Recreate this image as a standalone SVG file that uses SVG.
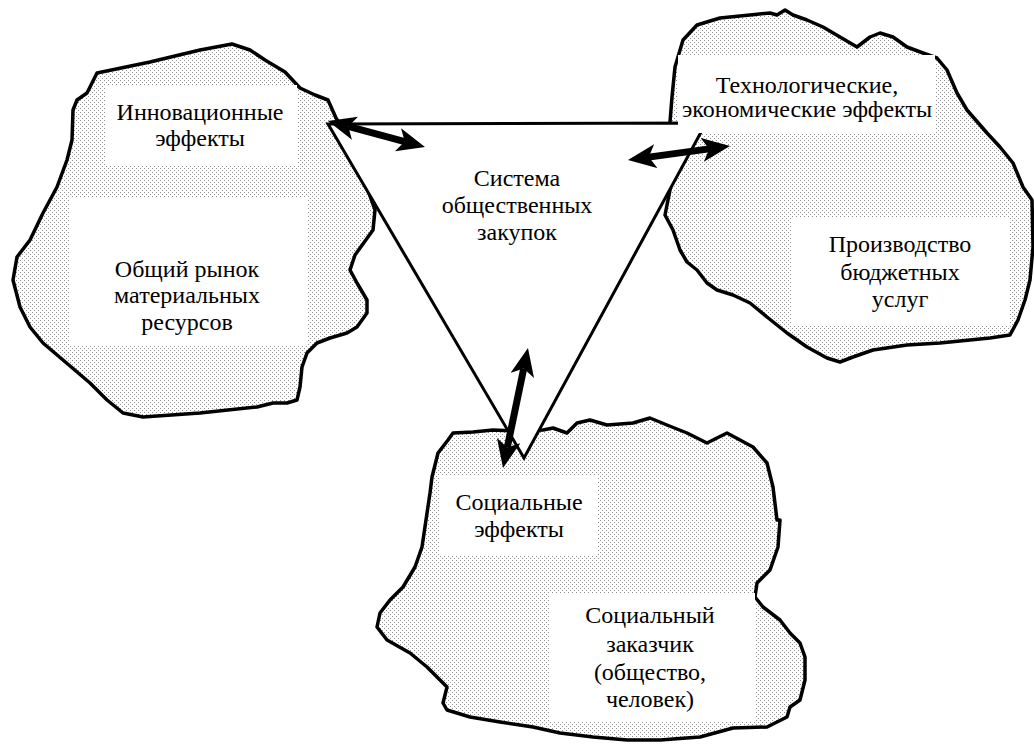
<svg xmlns="http://www.w3.org/2000/svg" width="1034" height="744" viewBox="0 0 1034 744">
<style>
.blob{fill:url(#dots);stroke:#000;stroke-width:3.5;stroke-linejoin:round}
.box{fill:#fff}
.tri{fill:#fff;stroke:#000;stroke-width:3;stroke-linejoin:miter}
.lbl{font-family:"Liberation Serif","DejaVu Serif",serif;font-size:24px;fill:#000;text-anchor:middle}
.arr{stroke:#000;stroke-width:7;fill:none;marker-start:url(#head);marker-end:url(#head)}
</style>
<defs>
<pattern id="dots" patternUnits="userSpaceOnUse" width="4" height="4">
<rect width="4" height="4" fill="#fff"/>
<rect x="0" y="0" width="1" height="1" fill="#909090"/>
<rect x="2" y="2" width="1" height="1" fill="#909090"/>
</pattern>
<marker id="head" markerUnits="userSpaceOnUse" markerWidth="28" markerHeight="24" viewBox="0 0 28 24" refX="7" refY="12" orient="auto-start-reverse">
<path d="M0,0 L28,12 L0,24 L7,12 Z" fill="#000"/>
</marker>
</defs>
<rect width="1034" height="744" fill="#fff"/>

<g id="blob-left">
<path class="blob" d="M97,73 L150,62 L200,50 L232,44 L250,50 L265,60 L285,72 L300,88 L315,95 L328,100 L336,118 L350,140 L375,210 L373,230 L355,255 L350,270 L357,283 L367,300 L367,313 L357,327 L347,333 L330,338 L317,343 L307,353 L302,367 L300,387 L297,400 L287,403 L273,403 L257,407 L200,413 L143,417 L123,413 L107,400 L90,383 L63,360 L43,343 L30,327 L20,307 L13,280 L17,257 L30,240 L43,213 L57,187 L67,160 L72,140 L73,110 L77,100 L87,93 Z"/>
</g>

<g id="blob-right">
<path class="blob" d="M670,122 L672,97 L675,67 L683,40 L697,25 L720,18 L750,15 L770,13 L777,15 L785,10 L793,15 L807,20 L823,27 L840,37 L857,47 L870,37 L880,33 L893,37 L907,47 L923,53 L937,58 L947,70 L957,93 L967,110 L987,133 L1000,147 L1013,163 L1023,187 L1032,200 L1033,247 L1030,280 L1025,300 L1018,320 L1010,335 L990,338 L940,343 L907,345 L873,350 L853,357 L840,362 L827,358 L807,347 L787,333 L767,317 L750,303 L733,295 L717,290 L707,283 L697,270 L687,262 L680,250 L673,230 L665,215 L672,180 L668,150 Z"/>
</g>

<g id="blob-bottom">
<path class="blob" d="M448,440 L453,433 L473,432 L493,430 L513,431 L543,430 L553,428 L567,433 L577,423 L590,420 L607,425 L633,423 L650,418 L667,425 L687,433 L707,443 L727,433 L753,447 L767,463 L773,487 L777,520 L780,520 L778,547 L770,570 L757,583 L755,597 L763,607 L780,620 L790,633 L800,643 L805,657 L805,680 L800,700 L790,707 L787,717 L767,727 L733,728 L700,737 L660,740 L627,740 L593,737 L560,733 L533,727 L500,722 L470,717 L447,710 L443,703 L447,687 L437,677 L427,667 L410,653 L387,640 L377,627 L380,613 L390,600 L403,587 L415,567 L422,547 L430,493 L432,477 L438,453 Z"/>
</g>

<g id="system">
<polygon class="tri" points="328,124 706,123 524,458"/>
</g>

<g id="labels-boxes">
<rect class="box" x="105" y="85" width="192" height="80"/>
<rect class="box" x="70" y="197" width="237" height="149"/>
<rect class="box" x="678" y="55" width="257" height="78"/>
<rect class="box" x="792" y="218" width="218" height="107"/>
<rect class="box" x="440" y="475" width="158" height="80"/>
<rect class="box" x="550" y="593" width="205" height="129"/>
</g>

<g id="texts" class="lbl" font-family="Liberation Serif, DejaVu Serif, serif">
<text class="lbl" x="200" y="120">Инновационные</text>
<text class="lbl" x="200" y="146">эффекты</text>
<text class="lbl" x="187" y="277">Общий рынок</text>
<text class="lbl" x="187" y="303">материальных</text>
<text class="lbl" x="187" y="330">ресурсов</text>
<text class="lbl" x="517" y="186">Система</text>
<text class="lbl" x="517" y="213">общественных</text>
<text class="lbl" x="517" y="240">закупок</text>
<text class="lbl" x="807" y="93">Технологические,</text>
<text class="lbl" x="807" y="117">экономические эффекты</text>
<text class="lbl" x="900" y="252">Производство</text>
<text class="lbl" x="900" y="280">бюджетных</text>
<text class="lbl" x="900" y="307">услуг</text>
<text class="lbl" x="519" y="510">Социальные</text>
<text class="lbl" x="519" y="537">эффекты</text>
<text class="lbl" x="650" y="623">Социальный</text>
<text class="lbl" x="650" y="652">заказчик</text>
<text class="lbl" x="650" y="680">(общество,</text>
<text class="lbl" x="650" y="707">человек)</text>
</g>

<g id="connectors">
<line class="arr" x1="348.3" y1="126.4" x2="404.7" y2="141.6"/>
<line class="arr" x1="648.8" y1="157.1" x2="709.2" y2="148.9"/>
<line class="arr" x1="523.7" y1="368.6" x2="507.3" y2="447.4"/>
</g>
</svg>
